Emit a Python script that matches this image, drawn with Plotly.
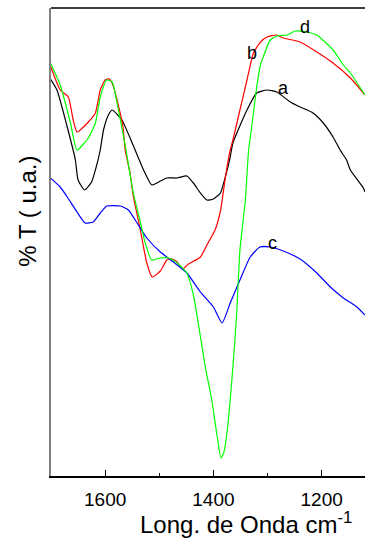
import plotly.graph_objects as go

# Curve a (black)
a_x = [1701, 1689, 1670, 1655, 1650, 1638, 1625, 1618, 1609, 1603, 1594, 1587, 1569, 1550, 1529, 1514,
       1501, 1486, 1467, 1449, 1437, 1424, 1412, 1400, 1387, 1378, 1369, 1364, 1338, 1320, 1301, 1283,
       1258, 1240, 1216, 1197, 1179, 1166, 1154, 1147, 1123, 1120]
a_y = [397, 386, 349, 316, 296, 286, 294, 306, 326, 346, 361, 366, 356, 333, 306, 291,
       294, 298, 298, 300, 293, 283, 276, 277, 283, 299, 319, 333, 366, 383, 386, 384,
       374, 369, 363, 353, 339, 326, 316, 306, 288, 284]

# Curve b (red)
b_x = [1701, 1683, 1668, 1659, 1652, 1631, 1618, 1609, 1600, 1592, 1585, 1578, 1567, 1563, 1554, 1548,
       1535, 1523, 1513, 1498, 1486, 1476, 1467, 1457, 1446, 1424, 1410, 1397, 1387, 1378, 1369, 1364,
       1351, 1338, 1326, 1313, 1301, 1283, 1271, 1240, 1209, 1179, 1147, 1123, 1120]
b_y = [410, 386, 379, 356, 344, 354, 363, 386, 396, 397, 390, 376, 349, 326, 303, 280,
       246, 213, 199, 205, 216, 217, 214, 207, 212, 219, 233, 246, 265, 298, 326, 336,
       366, 396, 423, 434, 439, 441, 438, 434, 424, 413, 398, 383, 381]

# Curve c (blue)
c_x = [1701, 1683, 1670, 1652, 1637, 1622, 1609, 1597, 1572, 1557, 1541, 1523, 1498, 1474, 1449, 1424,
       1400, 1384, 1369, 1351, 1332, 1314, 1295, 1271, 1240, 1209, 1184, 1160, 1135, 1120]
c_y = [298, 289, 279, 264, 253, 254, 263, 270, 270, 266, 253, 238, 224, 214, 203, 184,
       169, 153, 173, 196, 219, 229, 229, 225, 217, 203, 189, 178, 169, 161]

# Curve d (green)
d_x = [1701, 1683, 1664, 1652, 1631, 1618, 1609, 1597, 1587, 1578, 1563, 1548, 1535, 1526, 1514, 1498,
       1483, 1467, 1449, 1437, 1428, 1415, 1403, 1394, 1386, 1381, 1375, 1369, 1363, 1357, 1351, 1341,
       1335, 1330, 1320, 1314, 1308, 1295, 1283, 1264, 1249, 1227, 1209, 1179, 1160, 1147, 1120]
d_y = [413, 391, 353, 326, 338, 353, 379, 396, 394, 373, 331, 283, 254, 233, 216, 218,
       218, 213, 203, 181, 153, 109, 76, 43, 18, 23, 43, 76, 116, 163, 226, 276,
       326, 346, 389, 409, 419, 436, 440, 441, 445, 444, 441, 426, 411, 403, 381]

labels = ["a", "b", "c", "d"]
label_x = [1271, 1329, 1291, 1231]
label_y = [388, 423, 233, 449]

x_ticks = [1600, 1400, 1200]

fig = go.Figure()
for xs, ys, col in [(a_x, a_y, "#000000"), (b_x, b_y, "#ff0000"),
                    (c_x, c_y, "#0000ff"), (d_x, d_y, "#00ff00")]:
    fig.add_trace(go.Scatter(x=xs, y=ys, mode="lines",
                             line=dict(color=col, width=1.2, shape="spline", smoothing=0.5),
                             showlegend=False))

for t, lx, ly in zip(labels, label_x, label_y):
    fig.add_annotation(x=lx, y=ly, text=t, showarrow=False,
                       font=dict(family="Liberation Sans, Arial", size=18, color="black"))

fig.add_annotation(xref="paper", yref="paper", x=0.62, y=-0.101, text="Long. de Onda cm<sup>-1</sup>",
                   showarrow=False, xanchor="center", yanchor="middle",
                   font=dict(family="Liberation Sans, Arial", size=24, color="black"))
fig.add_annotation(xref="paper", yref="paper", x=-0.073, y=0.565, text="% T ( u.a.)",
                   showarrow=False, textangle=-90, xanchor="center", yanchor="middle",
                   font=dict(family="Liberation Sans, Arial", size=24, color="black"))

fig.add_shape(type="line", xref="paper", yref="paper", x0=0, x1=1, y0=1, y1=1,
              line=dict(color="black", width=1.5))

fig.update_layout(
    width=365, height=543,
    margin=dict(l=51, r=0, t=8, b=67),
    paper_bgcolor="white", plot_bgcolor="white",
    xaxis=dict(range=[1700, 1120], showgrid=False, zeroline=False,
               showline=True, linecolor="black", linewidth=2,
               ticks="inside", ticklen=6, tickwidth=1, tickcolor="black",
               tickvals=x_ticks, ticktext=[str(v) for v in x_ticks],
               ticklabelstandoff=5,
               minor=dict(ticks="inside", ticklen=3, dtick=100, tick0=1100, tickcolor="black"),
               tickfont=dict(family="Liberation Sans, Arial", size=19, color="black")),
    yaxis=dict(range=[0, 468], showgrid=False, zeroline=False, showticklabels=False,
               showline=True, linecolor="#808080", linewidth=2, ticks=""),
)

fig.write_html("out.html")
